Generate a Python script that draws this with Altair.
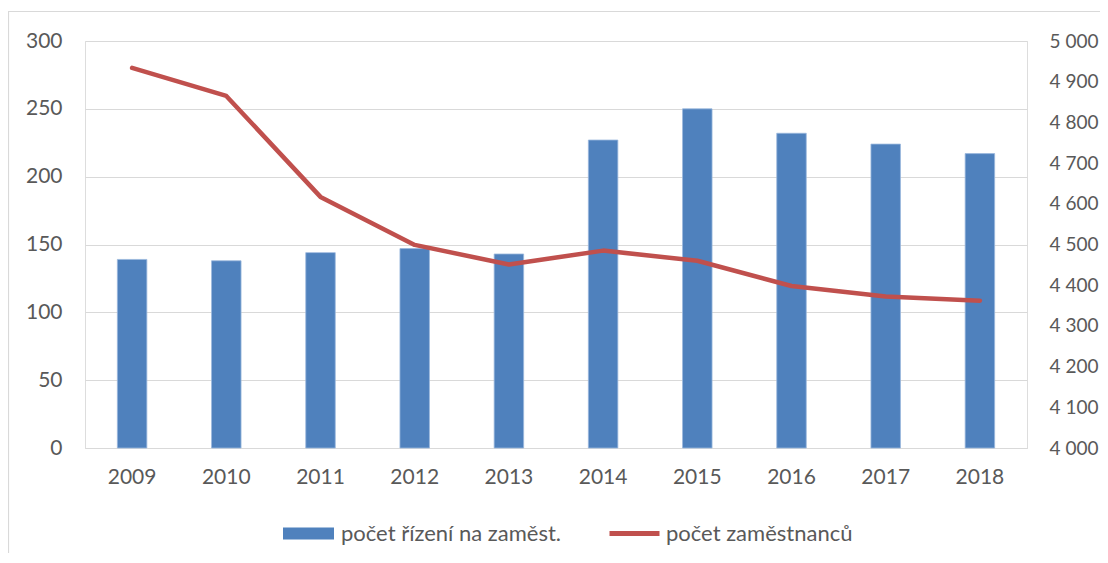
import altair as alt
import pandas as pd

years = ["2009", "2010", "2011", "2012", "2013", "2014", "2015", "2016", "2017", "2018"]
rizeni = [139, 138, 144, 147, 143, 227, 250, 232, 224, 217]
zamestnanci = [4934, 4865, 4617, 4499, 4451, 4485, 4460, 4398, 4372, 4362]

bar_name = "počet řízení na zaměst."
line_name = "počet zaměstnanců"

df = pd.DataFrame({"rok": years, "rizeni": rizeni, "zam": zamestnanci,
                   "s1": bar_name, "s2": line_name})

FONT = "Lato"
GREY = "#595959"
FS = 21
RFS = 19
LFS = 22

x = alt.X("rok:N", sort=years, title=None,
          scale=alt.Scale(paddingInner=0, paddingOuter=0),
          axis=alt.Axis(labelAngle=0, labelFontSize=FS, labelColor=GREY, labelFont=FONT,
                        ticks=False, domain=True, domainColor="#d9d9d9", domainWidth=1,
                        labelPadding=18, grid=False))

bars = alt.Chart(df).mark_bar(size=29.5, stroke="#9bb7dd", strokeWidth=0.8).encode(
    x=x,
    y=alt.Y("rizeni:Q", title=None,
            scale=alt.Scale(domain=[0, 300], nice=False),
            axis=alt.Axis(values=[0, 50, 100, 150, 200, 250, 300], labelFontSize=FS,
                          labelColor=GREY, labelFont=FONT, ticks=False, domain=False,
                          gridColor="#d9d9d9", gridWidth=1.2, labelPadding=23)),
    color=alt.Color("s1:N", title=None,
                    scale=alt.Scale(domain=[bar_name], range=["#4f81bd"]),
                    legend=alt.Legend(orient="none", legendX=198, legendY=467,
                                      symbolType="M-1,-0.235H1V0.235H-1Z", symbolSize=2601,
                                      symbolStrokeWidth=0, labelFontSize=LFS, labelColor=GREY,
                                      labelFont=FONT, labelOffset=7, labelLimit=400)),
)

line = alt.Chart(df).mark_line(strokeWidth=4.5, strokeCap="round", strokeJoin="round").encode(
    x=x,
    y=alt.Y("zam:Q", title=None,
            scale=alt.Scale(domain=[4000, 5000], nice=False),
            axis=alt.Axis(orient="right", values=list(range(4000, 5001, 100)),
                          labelExpr="replace(format(datum.value, ','), ',', ' ')",
                          labelFontSize=RFS, labelColor=GREY, labelFont=FONT,
                          ticks=False, domain=False, grid=False, labelPadding=22)),
    stroke=alt.Stroke("s2:N", title=None,
                      scale=alt.Scale(domain=[line_name], range=["#c0504d"]),
                      legend=alt.Legend(orient="none", legendX=522, legendY=465,
                                        symbolType="stroke", symbolSize=2500,
                                        symbolStrokeWidth=5, labelFontSize=LFS,
                                        labelColor=GREY, labelFont=FONT, labelOffset=4,
                                        labelLimit=400)),
)

border = alt.Chart(pd.DataFrame({"a": [0]})).mark_rect(
    fill=None, stroke="#d9d9d9", strokeWidth=1.2).encode(
    x=alt.value(-76.5), x2=alt.value(1100), y=alt.value(-29.5), y2=alt.value(600))

chart = alt.layer(border, bars, line).resolve_scale(y="independent").properties(
    width=942, height=407,
    autosize=alt.AutoSizeParams(type="none"),
    padding={"left": 77, "top": 33, "right": 73, "bottom": 105},
).configure_view(stroke=None).configure(background="white")

chart.save("out.html", embed_options={"renderer": "svg", "actions": False})
